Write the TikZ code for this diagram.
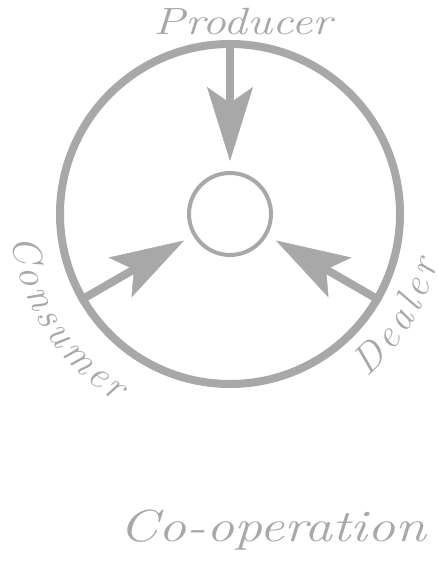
\documentclass[tikz,border=0pt]{standalone}
\usepackage{graphicx}
\usetikzlibrary{arrows.meta,calc}
\definecolor{ink}{HTML}{A8A8A8}

\begin{document}
\begin{tikzpicture}[
  x=1pt, y=1pt,
  >=Stealth,
  rim/.style={circle, draw=ink, line width=8pt, minimum size=340pt, inner sep=0pt},
  hub/.style={circle, draw=ink, line width=4pt, minimum size=82pt, inner sep=0pt},
  feed/.style={ink, line width=8pt, shorten >=10pt,
    -{Stealth[length=74pt, width=46pt, inset=16pt, line width=0.5pt]}},
  lbl/.style={text=ink, font=\fontsize{38}{40}\selectfont\itshape, inner sep=0pt},
  arclbl/.style={text=ink, font=\fontsize{40}{42}\selectfont\itshape, inner sep=0pt, anchor=base}
]
\useasboundingbox (0,0) rectangle (438,569);

% ==================== WHEEL ====================
\coordinate (c) at (230,355);
\node[rim] (rim) at (c) {};
\node[hub] (hub) at (c) {};

% Spokes pointing to the hub
\foreach \a in {90,210,330}
  \draw[feed] (rim.\a) -- (hub.\a);

% ==================== LABELS ====================
\node[lbl, anchor=base] (producer) at (243,534) {\scalebox{1.25}[1]{Producer}};

% Consumer, along the left rim
\foreach \ch/\a [count=\i] in {C/190,o/197.3,n/203.8,s/209.7,u/215.5,m/223.5,e/231.1,r/236.5}
  \node[arclbl, rotate=\a+90] (cons-\i) at ($(c)+(\a:219)$) {\ch};

% Dealer, along the right rim
\foreach \ch/\a [count=\i] in {D/-46,e/-38.2,a/-31.8,l/-26.5,e/-21.5,r/-15.5}
  \node[arclbl, rotate=\a+90] (deal-\i) at ($(c)+(\a:213)$) {\ch};

\node[lbl, font=\fontsize{45}{48}\selectfont\itshape, anchor=base] (coop) at (273,27)
  {\scalebox{1.24}[1]{Co-operation}};

\end{tikzpicture}
\end{document}
